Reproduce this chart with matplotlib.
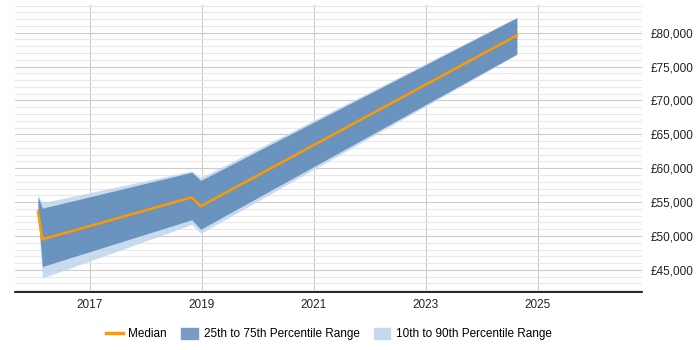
import numpy as np
import matplotlib
matplotlib.use("Agg")
import matplotlib.pyplot as plt
from matplotlib.ticker import FuncFormatter, MultipleLocator
from matplotlib.patches import Patch
from matplotlib.lines import Line2D

plt.rcParams['font.family'] = ['Liberation Sans', 'DejaVu Sans']

# time points as decimal years
years = [2016.07, 2016.15, 2018.82, 2018.98, 2024.63]
median = [53600, 49500, 55700, 54400, 79600]
p25 = [53400, 45500, 52400, 51000, 76850]
p75 = [55800, 54100, 59400, 58200, 82200]
p10 = [53300, 43800, 51700, 50400, 76750]
p90 = [56000, 54900, 59600, 58600, 82300]

tick_years = [2017, 2019, 2021, 2023, 2025]

fig = plt.figure(figsize=(7, 3.5), dpi=100)
ax = fig.add_axes([0.0214, 0.166, 0.896, 0.82])

ax.fill_between(years, p10, p90, color='#c3d7ec', alpha=0.9, lw=0, zorder=2)
ax.fill_between(years, p25, p75, color='#608bb9', alpha=0.9, lw=0, zorder=3)
ax.plot(years, median, color='#ff9900', lw=1.8, zorder=4)

ax.set_xlim(2015.66, 2026.87)
ax.set_ylim(41750, 84100)
ax.set_xticks(tick_years)
ax.set_xticklabels([str(y) for y in tick_years])
ax.yaxis.set_major_locator(MultipleLocator(5000))
ax.yaxis.set_minor_locator(MultipleLocator(1000))
ax.yaxis.set_major_formatter(FuncFormatter(lambda v, p: '£{:,.0f}'.format(v)))
ax.yaxis.tick_right()

ax.grid(which='major', axis='both', color='#cccccc', lw=0.8, zorder=0)
ax.grid(which='minor', axis='y', color='#e8e8e8', lw=0.8, zorder=0)
ax.set_axisbelow(True)

for s in ['top', 'left', 'right']:
    ax.spines[s].set_visible(False)
ax.spines['bottom'].set_color('black')
ax.spines['bottom'].set_linewidth(1.2)
ax.tick_params(axis='both', which='both', length=0, labelsize=8.5, colors='#222222')
ax.tick_params(axis='y', pad=6)
ax.tick_params(axis='x', pad=5)

handles = [Line2D([0], [0], color='#ff9900', lw=2.5),
           Patch(color='#7a9cc4'),
           Patch(color='#c6d9ec')]
labels = ['Median', '25th to 75th Percentile Range', '10th to 90th Percentile Range']
fig.legend(handles, labels, loc='center', bbox_to_anchor=(0.47, 0.045), ncol=3,
           frameon=False, fontsize=8.5, handlelength=1.4, handleheight=1.0,
           columnspacing=1.2, handletextpad=0.5)

fig.savefig('out.png', dpi=100)
